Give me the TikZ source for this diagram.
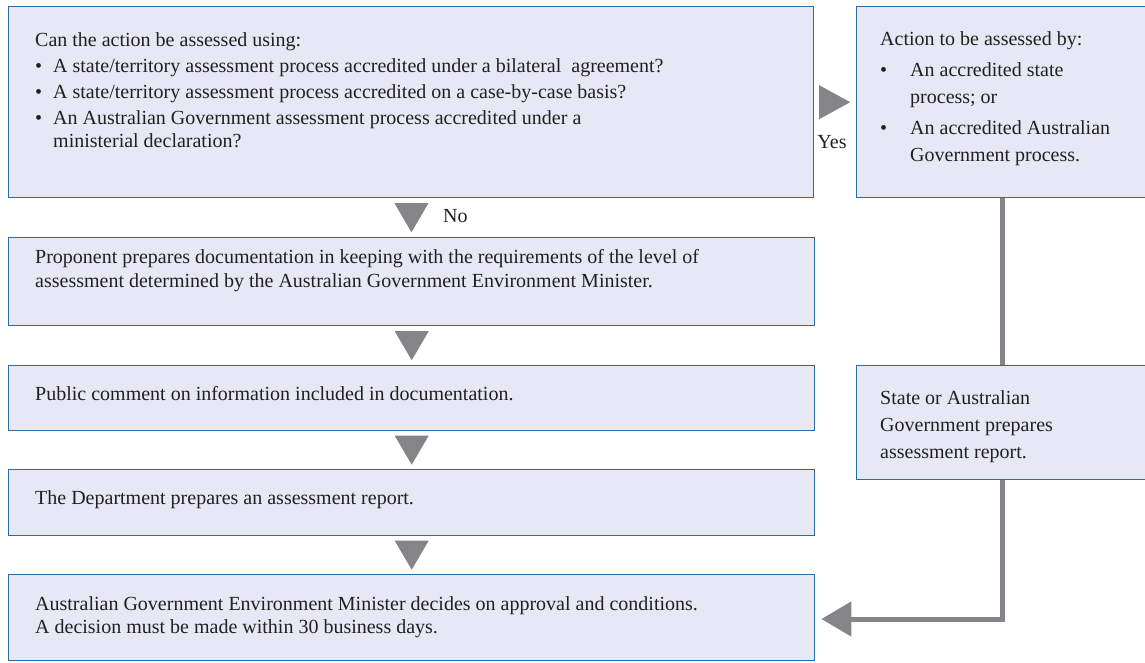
\documentclass[tikz,border=0pt]{standalone}
\usepackage{fontspec}
\setmainfont{Liberation Serif}
\usetikzlibrary{calc,arrows.meta}
\definecolor{boxfill}{HTML}{E6E9F5}
\definecolor{boxline}{HTML}{2C6BA6}
\definecolor{arrowgray}{HTML}{848489}
\definecolor{inkgray}{HTML}{231F20}
\def\downtri(#1)(#2){\fill[arrowgray] ($(#1)!0.5!(#2)$) ++(-17,-14.5) -- ++(34,0) -- ++(-17,29) -- cycle;}
\newcommand{\blt}[1][18pt]{\makebox[#1][l]{\textbullet}}

\begin{document}
\begin{tikzpicture}[x=1pt, y=-1pt,
	box/.style={draw=boxline, fill=boxfill, line width=1.4pt, anchor=north west, inner sep=0pt},
	txt/.style={anchor=base west, inner sep=0pt, text=inkgray, font=\fontsize{20}{23}\selectfont},
	link/.style={draw=arrowgray, line width=5pt}]
		%%%%% START %%%%%
		\useasboundingbox (0, 0) rectangle (1145, 662);
		\clip (0, 0) rectangle (1145, 662);
		
		\node[box, minimum width=805pt, minimum height=191pt] (qbox) at (8, 6) {};
		\node[box, minimum width=310pt, minimum height=191pt] (accbox) at (856, 6) {};
		\node[box, minimum width=806pt, minimum height=88pt] (prepbox) at (8, 237) {};
		\node[box, minimum width=806pt, minimum height=65pt] (pubbox) at (8, 365) {};
		\node[box, minimum width=310pt, minimum height=114pt] (statebox) at (856, 365) {};
		\node[box, minimum width=806pt, minimum height=66pt] (deptbox) at (8, 469) {};
		\node[box, minimum width=806pt, minimum height=86pt] (minbox) at (8, 574) {};
		
		\node[txt] (qtext) at (35, 46) {\parbox[t]{770pt}{\raggedright
			Can the action be assessed using:\\[3pt]
			\blt A state/territory assessment process accredited under a bilateral\ \ agreement?\\[3pt]
			\blt A state/territory assessment process accredited on a case-by-case basis?\\[3pt]
			\blt An Australian Government assessment process accredited under a\\
			\hspace*{18pt}ministerial declaration?}};
		
		\node[txt, font=\fontsize{20}{27}\selectfont] (acctext) at (880, 45) {\parbox[t]{260pt}{\raggedright
			Action to be assessed by:\\[4pt]
			\blt[30pt]An accredited state\\
			\hspace*{30pt}process; or\\[4pt]
			\blt[30pt]An accredited Australian\\
			\hspace*{30pt}Government process.}};
		
		\node[txt, font=\fontsize{20}{24}\selectfont] (preptext) at (35, 263) {\parbox[t]{770pt}{\raggedright
			Proponent prepares documentation in keeping with the requirements of the level of\\
			assessment determined by the Australian Government Environment Minister.}};
		\node[txt] (pubtext) at (35, 400) {Public comment on information included in documentation.};
		\node[txt, font=\fontsize{20}{27}\selectfont] (statetext) at (880, 404) {\parbox[t]{260pt}{\raggedright
			State or Australian\\
			Government prepares\\
			assessment report.}};
		\node[txt] (depttext) at (35, 504) {The Department prepares an assessment report.};
		\node[txt] (mintext) at (35, 610) {\parbox[t]{770pt}{\raggedright
			Australian Government Environment Minister decides on approval and conditions.\\
			A decision must be made within 30 business days.}};
		
		\downtri(qbox.south)(prepbox.north)
		\downtri(prepbox.south)(pubbox.north)
		\downtri(pubbox.south)(deptbox.north)
		\downtri(deptbox.south)(minbox.north)
		\fill[arrowgray] ($(qbox.east)!0.5!(accbox.west)$) ++(-16, -17) -- ++(31, 17) -- ++(-31, 17) -- cycle;
		
		\node[txt, anchor=west] (nolbl) at (443, 216) {No};
		\node[txt, anchor=center] (yeslbl) at (832, 142) {Yes};
		
		\coordinate (bend) at (1002, 619);
		\draw[link] (accbox.south -| bend) -- (statebox.north -| bend);
		\draw[link, -{Triangle[length=30pt, width=34pt]}, shorten >=6pt] (statebox.south -| bend) -- (bend) -- (minbox.east |- bend);
		
		%%%%% END %%%%%
	\end{tikzpicture}
\end{document}
